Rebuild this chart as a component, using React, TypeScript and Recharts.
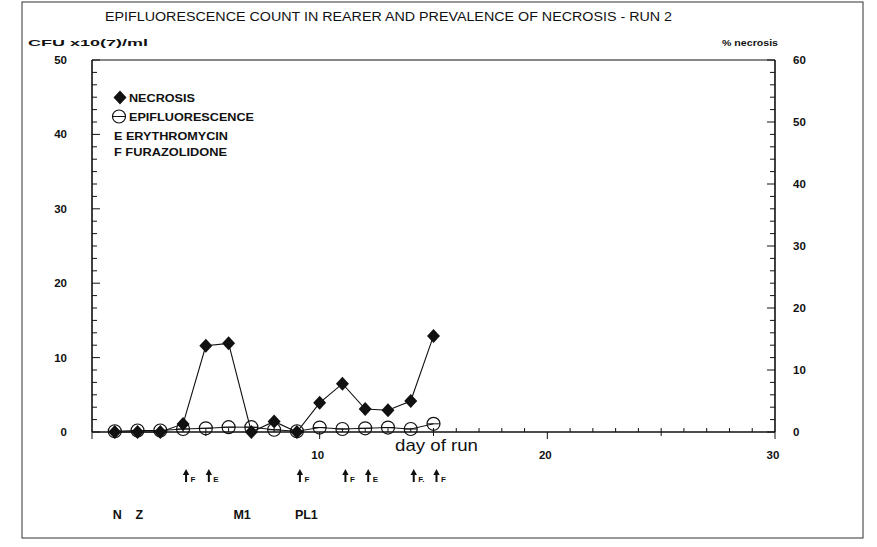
import React from 'react';
import { ComposedChart, Line, XAxis, YAxis, ReferenceLine, ReferenceDot } from 'recharts';

// ---- data ----
const days = [1, 2, 3, 4, 5, 6, 7, 8, 9, 10, 11, 12, 13, 14, 15];
const necrosisPct = [0, 0, 0, 1.3, 13.9, 14.3, 0, 1.7, 0, 4.7, 7.8, 3.7, 3.5, 5.0, 15.5];
const epifluorescence = [0.1, 0.2, 0.2, 0.4, 0.5, 0.65, 0.65, 0.3, 0.1, 0.6, 0.4, 0.5, 0.6, 0.4, 1.1];

const xTicks = [0, 1, 2, 3, 4, 5, 6, 7, 8, 9, 10, 11, 12, 13, 14, 15, 16, 17, 18, 19, 20, 21, 22, 23, 24, 25, 26, 27, 28, 29, 30];
const xTickLabels = [10, 20, 30];
const leftTicks = Array.from({ length: 31 }, (_, i) => (i * 50) / 30);
const leftTickLabels = [0, 10, 20, 30, 40, 50];
const rightTicks = Array.from({ length: 31 }, (_, i) => i * 2);
const rightTickLabels = [0, 10, 20, 30, 40, 50, 60];

const treatmentDays = [4, 5, 9, 11, 12, 14, 15];
const treatmentDrugs = ['F', 'E', 'F', 'F', 'E', 'F.', 'F'];

const stageDays = [1, 2, 6.3, 9];
const stageLabels = ['N', 'Z', 'M1', 'PL1'];

const legendItems = ['NECROSIS', 'EPIFLUORESCENCE', 'E ERYTHROMYCIN', 'F FURAZOLIDONE'];

const chartData = days.map((d, i) => ({ day: d, necrosis: necrosisPct[i], epi: epifluorescence[i] }));

// ---- styles ----
const FONT = '"Liberation Sans", Arial, Helvetica, sans-serif';
const INK = '#111';

const XTick = (props: any) => {
  const { x, y, payload } = props;
  const v = payload.value;
  const major = v % 10 === 0;
  const mid = v % 5 === 0;
  return (
    <g>
      <line x1={x} x2={x} y1={y - (major ? 0 : 4)} y2={y + (major ? 7 : mid ? 4 : 0)} stroke={INK} strokeWidth={1} />
      {xTickLabels.includes(v) && (
        <text x={x - 2} y={y + 27} textAnchor="middle" fontSize={11.5} fontWeight="bold" fontFamily={FONT} fill={INK}>
          {v}
        </text>
      )}
    </g>
  );
};

const LeftTick = (props: any) => {
  const { x, y, payload } = props;
  const v = payload.value;
  const label = leftTickLabels.find((t) => Math.abs(t - v) < 1e-6);
  const major = label !== undefined;
  return (
    <g>
      <line x1={x} x2={x + (major ? 8 : 5)} y1={y} y2={y} stroke={INK} strokeWidth={1} />
      {major && (
        <text x={x - 25} y={y + 4} textAnchor="end" fontSize={11.5} fontWeight="bold" fontFamily={FONT} fill={INK}>
          {label}
        </text>
      )}
    </g>
  );
};

const RightTick = (props: any) => {
  const { x, y, payload } = props;
  const v = payload.value;
  const major = rightTickLabels.includes(v);
  return (
    <g>
      <line x1={x} x2={x - (major ? 8 : 5)} y1={y} y2={y} stroke={INK} strokeWidth={1} />
      {major && (
        <text x={x + 18} y={y + 4} textAnchor="start" fontSize={11.5} fontWeight="bold" fontFamily={FONT} fill={INK}>
          {v}
        </text>
      )}
    </g>
  );
};

const renderCircle = (p: any) => {
  if (p.cx == null || p.cy == null) return <g key={`c${p.index}`} />;
  return (
    <g key={`c${p.index}`}>
      <circle cx={p.cx} cy={p.cy} r={6.5} fill="none" stroke={INK} strokeWidth={1.2} />
      <line x1={p.cx - 6.5} x2={p.cx + 6.5} y1={p.cy} y2={p.cy} stroke={INK} strokeWidth={1} />
    </g>
  );
};

const renderDiamond = (p: any) => {
  if (p.cx == null || p.cy == null) return <g key={`d${p.index}`} />;
  const { cx, cy } = p;
  return <path key={`d${p.index}`} d={`M${cx},${cy - 7}L${cx + 6.5},${cy}L${cx},${cy + 7}L${cx - 6.5},${cy}Z`} fill={INK} />;
};

const arrowShape = (drug: string) => (p: any) => {
  const sx = p.cx + 3;
  const top = p.cy + 37;
  const bottom = p.cy + 50;
  return (
    <g>
      <path d={`M${sx},${top}L${sx + 3.2},${top + 6}L${sx - 3.2},${top + 6}Z`} fill={INK} />
      <line x1={sx} x2={sx} y1={top + 4} y2={bottom} stroke={INK} strokeWidth={2} />
      <text x={sx + 4.5} y={bottom} fontSize={8} fontWeight="bold" fontFamily={FONT} fill={INK}>
        {drug}
      </text>
    </g>
  );
};

const stageShape = (label: string) => (p: any) => (
  <text x={p.cx - 2} y={p.cy + 87} fontSize={12.5} fontWeight="bold" fontFamily={FONT} fill={INK}>
    {label}
  </text>
);

export default function App() {
  return (
    <div style={{ position: 'absolute', left: 0, top: 0, width: 877, height: 547, background: '#fff' }}>
      <ComposedChart
        width={877}
        height={547}
        data={chartData}
        margin={{ top: 60, right: 42, bottom: 85, left: 32 }}
      >
        <XAxis
          dataKey="day"
          type="number"
          domain={[0, 30]}
          ticks={xTicks}
          interval={0}
          tickSize={0}
          tickMargin={0}
          tickLine={false}
          axisLine={{ stroke: INK, strokeWidth: 1.6 }}
          tick={<XTick />}
          height={30}
        />
        <YAxis
          yAxisId="left"
          orientation="left"
          type="number"
          domain={[0, 50]}
          ticks={leftTicks}
          interval={0}
          tickSize={0}
          tickMargin={0}
          tickLine={false}
          axisLine={{ stroke: INK, strokeWidth: 1.6 }}
          tick={<LeftTick />}
          width={60}
        />
        <YAxis
          yAxisId="right"
          orientation="right"
          type="number"
          domain={[0, 60]}
          ticks={rightTicks}
          interval={0}
          tickSize={0}
          tickMargin={0}
          tickLine={false}
          axisLine={{ stroke: INK, strokeWidth: 1.6 }}
          tick={<RightTick />}
          width={60}
        />
        <ReferenceLine yAxisId="left" y={50} stroke={INK} strokeWidth={1.2} />
        <Line
          yAxisId="left"
          dataKey="epi"
          type="linear"
          stroke={INK}
          strokeWidth={1}
          dot={renderCircle}
          activeDot={false}
          isAnimationActive={false}
        />
        <Line
          yAxisId="right"
          dataKey="necrosis"
          type="linear"
          stroke={INK}
          strokeWidth={1.1}
          dot={renderDiamond}
          activeDot={false}
          isAnimationActive={false}
        />
        {treatmentDays.map((d, i) => (
          <ReferenceDot
            key={`t${i}`}
            yAxisId="left"
            x={d}
            y={0}
            r={1}
            ifOverflow="visible"
            shape={arrowShape(treatmentDrugs[i])}
          />
        ))}
        {stageDays.map((d, i) => (
          <ReferenceDot
            key={`s${i}`}
            yAxisId="left"
            x={d}
            y={0}
            r={1}
            ifOverflow="visible"
            shape={stageShape(stageLabels[i])}
          />
        ))}
      </ComposedChart>
      <svg
        width={877}
        height={547}
        style={{ position: 'absolute', left: 0, top: 0, pointerEvents: 'none' }}
      >
        <rect x={22} y={2} width={841} height={536} fill="none" stroke="#333" strokeWidth={1} />
        <text x={105} y={21} fontSize={12.5} fontFamily={FONT} fill={INK} textLength={567} lengthAdjust="spacingAndGlyphs">
          EPIFLUORESCENCE COUNT IN REARER AND PREVALENCE OF NECROSIS - RUN 2
        </text>
        <text x={28} y={46} fontSize={9.5} fontWeight="bold" fontFamily={FONT} fill={INK} textLength={120} lengthAdjust="spacingAndGlyphs">
          CFU x10(7)/ml
        </text>
        <text x={722} y={46} fontSize={9.5} fontWeight="bold" fontFamily={FONT} fill={INK} textLength={56} lengthAdjust="spacingAndGlyphs">
          % necrosis
        </text>
        {/* legend */}
        <path d="M120,90.5L126.5,97.5L120,104.5L113.5,97.5Z" fill={INK} />
        <circle cx={119} cy={116.5} r={6.5} fill="none" stroke={INK} strokeWidth={1.2} />
        <line x1={112.5} x2={125.5} y1={116.5} y2={116.5} stroke={INK} strokeWidth={1} />
        <text x={129} y={101.5} fontSize={11} fontWeight="bold" fontFamily={FONT} fill={INK} textLength={66} lengthAdjust="spacingAndGlyphs">
          {legendItems[0]}
        </text>
        <text x={129} y={120.5} fontSize={11} fontWeight="bold" fontFamily={FONT} fill={INK} textLength={125} lengthAdjust="spacingAndGlyphs">
          {legendItems[1]}
        </text>
        <text x={114} y={139.5} fontSize={11} fontWeight="bold" fontFamily={FONT} fill={INK} textLength={114} lengthAdjust="spacingAndGlyphs">
          {legendItems[2]}
        </text>
        <text x={114} y={155.5} fontSize={11} fontWeight="bold" fontFamily={FONT} fill={INK} textLength={113} lengthAdjust="spacingAndGlyphs">
          {legendItems[3]}
        </text>
        <text x={395} y={451} fontSize={17} fontFamily={FONT} fill={INK} textLength={83} lengthAdjust="spacingAndGlyphs">
          day of run
        </text>
      </svg>
    </div>
  );
}
